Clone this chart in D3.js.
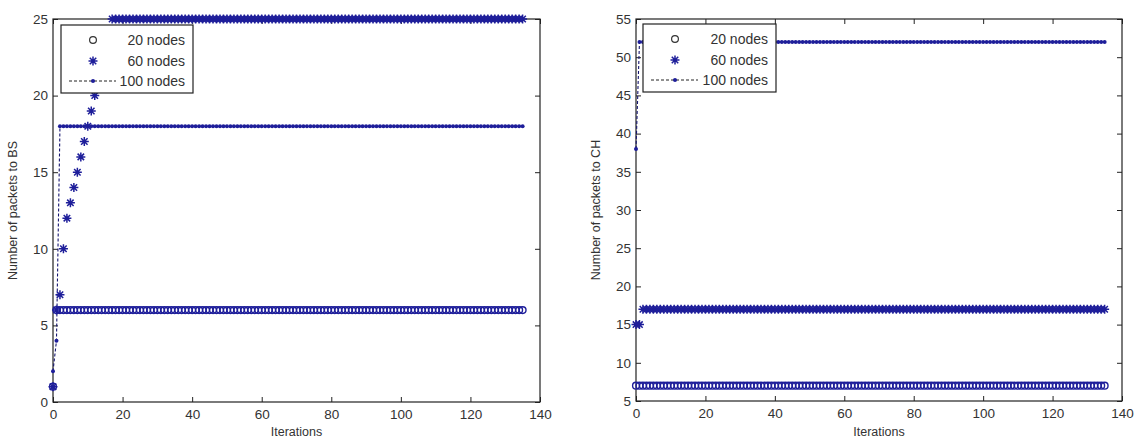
<!DOCTYPE html>
<html><head><meta charset="utf-8">
<script src="https://cdn.jsdelivr.net/npm/d3@7"></script>
<style>
html,body{margin:0;padding:0;background:#fff;}
svg{display:block;}
text{font-family:"Liberation Sans",Arial,sans-serif;fill:#333;}
</style></head>
<body>
<svg id="chart" width="1137" height="441"></svg>
<script>
// ---- data (each series holds its last value until the final iteration) ----
const lastIteration = 135;
const seriesNames = ["20 nodes", "60 nodes", "100 nodes"];
const xTicks = [0, 20, 40, 60, 80, 100, 120, 140];
// Left panel: packets to BS
const bs20 = [1, 6];
const bs60 = [1, 6, 7, 10, 12, 13, 14, 15, 16, 17, 18, 19, 20, 21, 22, 23, 24, 25];
const bs100 = [2, 4, 18];
const bsYTicks = [0, 5, 10, 15, 20, 25];
// Right panel: packets to CH
const ch20 = [7];
const ch60 = [15, 15, 17];
const ch100 = [38, 52];
const chYTicks = [5, 10, 15, 20, 25, 30, 35, 40, 45, 50, 55];

function expand(arr){
  const out = [];
  for (let i = 0; i <= lastIteration; i++) out.push({x:i, y: arr[Math.min(i, arr.length-1)]});
  return out;
}

const panels = [
  {left:53, right:540, top:19, bottom:402, yDomain:[0,25], yTicks:bsYTicks,
   ylabel:"Number of packets to BS", series:[bs20,bs60,bs100],
   legend:{x:61, y:25, w:132, h:68}},
  {left:636, right:1122, top:19, bottom:401, yDomain:[5,55], yTicks:chYTicks,
   ylabel:"Number of packets to CH", series:[ch20,ch60,ch100],
   legend:{x:643, y:24, w:133, h:68}}
];

const color = "#1e1e9a";
const svg = d3.select("#chart");

function starPath(cx, cy, s){
  const d = s*0.72;
  return `M${cx-s},${cy}L${cx+s},${cy}M${cx},${cy-s}L${cx},${cy+s}` +
         `M${cx-d},${cy-d}L${cx+d},${cy+d}M${cx-d},${cy+d}L${cx+d},${cy-d}`;
}

panels.forEach(p => {
  const x = d3.scaleLinear().domain([0,140]).range([p.left, p.right]);
  const y = d3.scaleLinear().domain(p.yDomain).range([p.bottom, p.top]);
  const g = svg.append("g");

  const tickLen = 5;
  const axB = g.append("g").attr("transform",`translate(0,${p.bottom})`)
    .call(d3.axisBottom(x).tickValues(xTicks).tickSizeInner(-tickLen).tickSizeOuter(0).tickPadding(7));
  const axL = g.append("g").attr("transform",`translate(${p.left},0)`)
    .call(d3.axisLeft(y).tickValues(p.yTicks).tickSizeInner(-tickLen).tickSizeOuter(0).tickPadding(5));
  const axT = g.append("g").attr("transform",`translate(0,${p.top})`)
    .call(d3.axisTop(x).tickValues(xTicks).tickSizeInner(-tickLen).tickSizeOuter(0).tickFormat(""));
  const axR = g.append("g").attr("transform",`translate(${p.right},0)`)
    .call(d3.axisRight(y).tickValues(p.yTicks).tickSizeInner(-tickLen).tickSizeOuter(0).tickFormat(""));
  [axB,axL,axT,axR].forEach(a => {
    a.select(".domain").remove();
    a.selectAll("line").attr("stroke","#222");
    a.selectAll("text").attr("font-size","13.5px").attr("fill","#333")
      .attr("font-family","'Liberation Sans',Arial,sans-serif");
  });
  g.append("rect").attr("x",p.left).attr("y",p.top)
    .attr("width",p.right-p.left).attr("height",p.bottom-p.top)
    .attr("fill","none").attr("stroke","#222").attr("stroke-width",1.2);

  const [s20, s60, s100] = p.series.map(expand);

  // 100 nodes: dashed line with dots
  g.append("path").datum(s100)
    .attr("d", d3.line().x(d=>x(d.x)).y(d=>y(d.y)))
    .attr("fill","none").attr("stroke","#161670").attr("stroke-width",1.1).attr("stroke-dasharray","3,2");
  g.append("g").selectAll("circle").data(s100).join("circle")
    .attr("cx",d=>x(d.x)).attr("cy",d=>y(d.y)).attr("r",2).attr("fill",color);

  // 20 nodes: open circles
  g.append("g").selectAll("circle").data(s20).join("circle")
    .attr("cx",d=>x(d.x)).attr("cy",d=>y(d.y)).attr("r",3.4)
    .attr("fill","none").attr("stroke",color).attr("stroke-width",1.4);

  // 60 nodes: stars
  g.append("g").selectAll("path").data(s60).join("path")
    .attr("d",d=>starPath(x(d.x), y(d.y), 4.5))
    .attr("fill","none").attr("stroke",color).attr("stroke-width",1.5);

  // axis labels
  g.append("text").attr("x",(p.left+p.right)/2).attr("y",436)
    .attr("text-anchor","middle").attr("font-size","12.5px").text("Iterations");
  g.append("text")
    .attr("transform",`translate(${p.left-36},${(p.top+p.bottom)/2}) rotate(-90)`)
    .attr("text-anchor","middle").attr("font-size","12.5px").text(p.ylabel);

  // legend
  const L = p.legend;
  const lg = g.append("g");
  lg.append("rect").attr("x",L.x).attr("y",L.y).attr("width",L.w).attr("height",L.h)
    .attr("fill","#fff").attr("stroke","#222").attr("stroke-width",1.2);
  const rowY = [L.y+15, L.y+36, L.y+56];
  const mx = L.x + 32;
  seriesNames.forEach((name, i) => {
    const cy = rowY[i];
    if (i === 0) {
      lg.append("circle").attr("cx",mx).attr("cy",cy).attr("r",3.4)
        .attr("fill","none").attr("stroke","#333").attr("stroke-width",1.2);
    } else if (i === 1) {
      lg.append("path").attr("d",starPath(mx,cy,4.5)).attr("stroke",color).attr("stroke-width",1.5);
    } else {
      lg.append("line").attr("x1",L.x+8).attr("x2",L.x+55).attr("y1",cy).attr("y2",cy)
        .attr("stroke","#222").attr("stroke-width",1).attr("stroke-dasharray","3,2");
      lg.append("circle").attr("cx",mx).attr("cy",cy).attr("r",2).attr("fill",color);
    }
    lg.append("text").attr("x",L.x+L.w-8).attr("y",cy).attr("dy","0.35em")
      .attr("text-anchor","end").attr("font-size","14px").text(name);
  });
});
</script>
</body></html>
